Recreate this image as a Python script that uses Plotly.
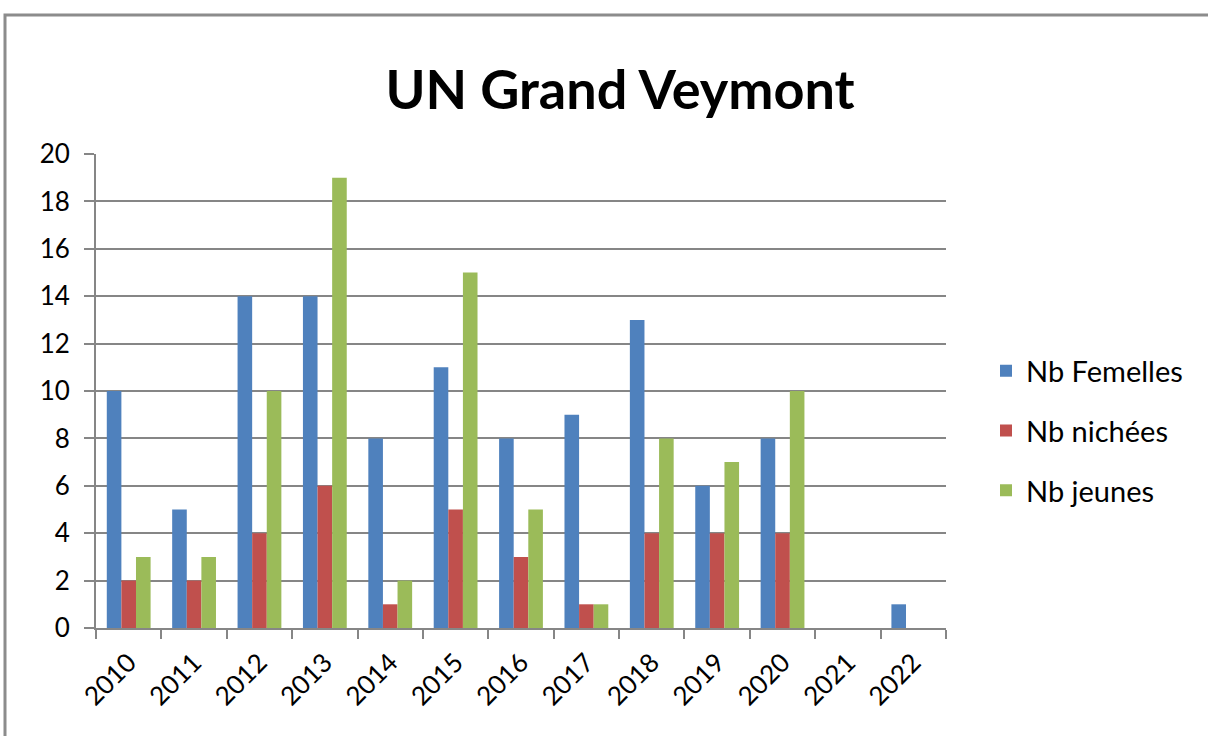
import plotly.graph_objects as go

years = ["2010", "2011", "2012", "2013", "2014", "2015", "2016", "2017", "2018", "2019", "2020", "2021", "2022"]
femelles = [10, 5, 14, 14, 8, 11, 8, 9, 13, 6, 8, 0, 1]
nichees = [2, 2, 4, 6, 1, 5, 3, 1, 4, 4, 4, 0, 0]
jeunes = [3, 3, 10, 19, 2, 15, 5, 1, 8, 7, 10, 0, 0]
series_names = ["Nb Femelles", "Nb nichées", "Nb jeunes"]
colors = ["#4F81BD", "#C0504D", "#9BBB59"]
y_ticks = [0, 2, 4, 6, 8, 10, 12, 14, 16, 18, 20]

W, H = 1208, 736
L, R, T, B = 96, 262, 154, 108
pw, ph = W - L - R, H - T - B

fig = go.Figure()
for i, (name, vals) in enumerate(zip(series_names, [femelles, nichees, jeunes])):
    fig.add_trace(go.Bar(
        x=years, y=vals, name=name, legendgroup=name,
        marker=dict(color=colors[i], line=dict(width=0)),
    ))

FONT = "Lato, Calibri, Carlito, sans-serif"
grid = "#868686"

def px_to_paper_x(px):
    return (px - L) / pw

def px_to_paper_y(py):
    return (H - B - py) / ph

fig.update_layout(
    width=W, height=H,
    margin=dict(l=L, r=R, t=T, b=B, pad=0),
    paper_bgcolor="white", plot_bgcolor="white",
    barmode="group", bargap=0.33, bargroupgap=0,
    font=dict(family=FONT, color="black", size=24),
    title=dict(text="<b>UN Grand Veymont</b>", x=620 / W, xanchor="center",
               y=1 - 90 / H, yanchor="middle",
               font=dict(family=FONT, size=54, color="black")),
    showlegend=True,
    legend=dict(x=px_to_paper_x(986), xanchor="left", y=px_to_paper_y(431), yanchor="middle",
                font=dict(size=29, family=FONT), tracegroupgap=19,
                itemsizing="constant", bgcolor="rgba(0,0,0,0)"),
    xaxis=dict(type="category", tickson="boundaries", ticks="outside", ticklen=9,
               tickwidth=2, tickcolor=grid, showline=True, linecolor=grid, linewidth=2,
               tickangle=-45, tickfont=dict(size=26, family=FONT), showgrid=False,
               ticklabelstandoff=7,
               range=[-0.5, 12.5]),
    yaxis=dict(range=[0, 20], tickvals=y_ticks, ticks="outside", ticklen=10, tickwidth=2,
               tickcolor=grid, showline=True, linecolor=grid, linewidth=2,
               showgrid=True, gridcolor=grid, gridwidth=2, zeroline=False,
               ticklabelstandoff=9,
               tickfont=dict(size=26, family=FONT)),
    shapes=[dict(type="rect", xref="paper", yref="paper",
                 x0=px_to_paper_x(5), x1=px_to_paper_x(1230),
                 y0=px_to_paper_y(760), y1=px_to_paper_y(15),
                 line=dict(color="#8C8C8C", width=3), fillcolor="rgba(0,0,0,0)", layer="below")],
)

fig.write_html("out.html", config={"displayModeBar": False},
               post_script="document.body.style.margin='0px';")
